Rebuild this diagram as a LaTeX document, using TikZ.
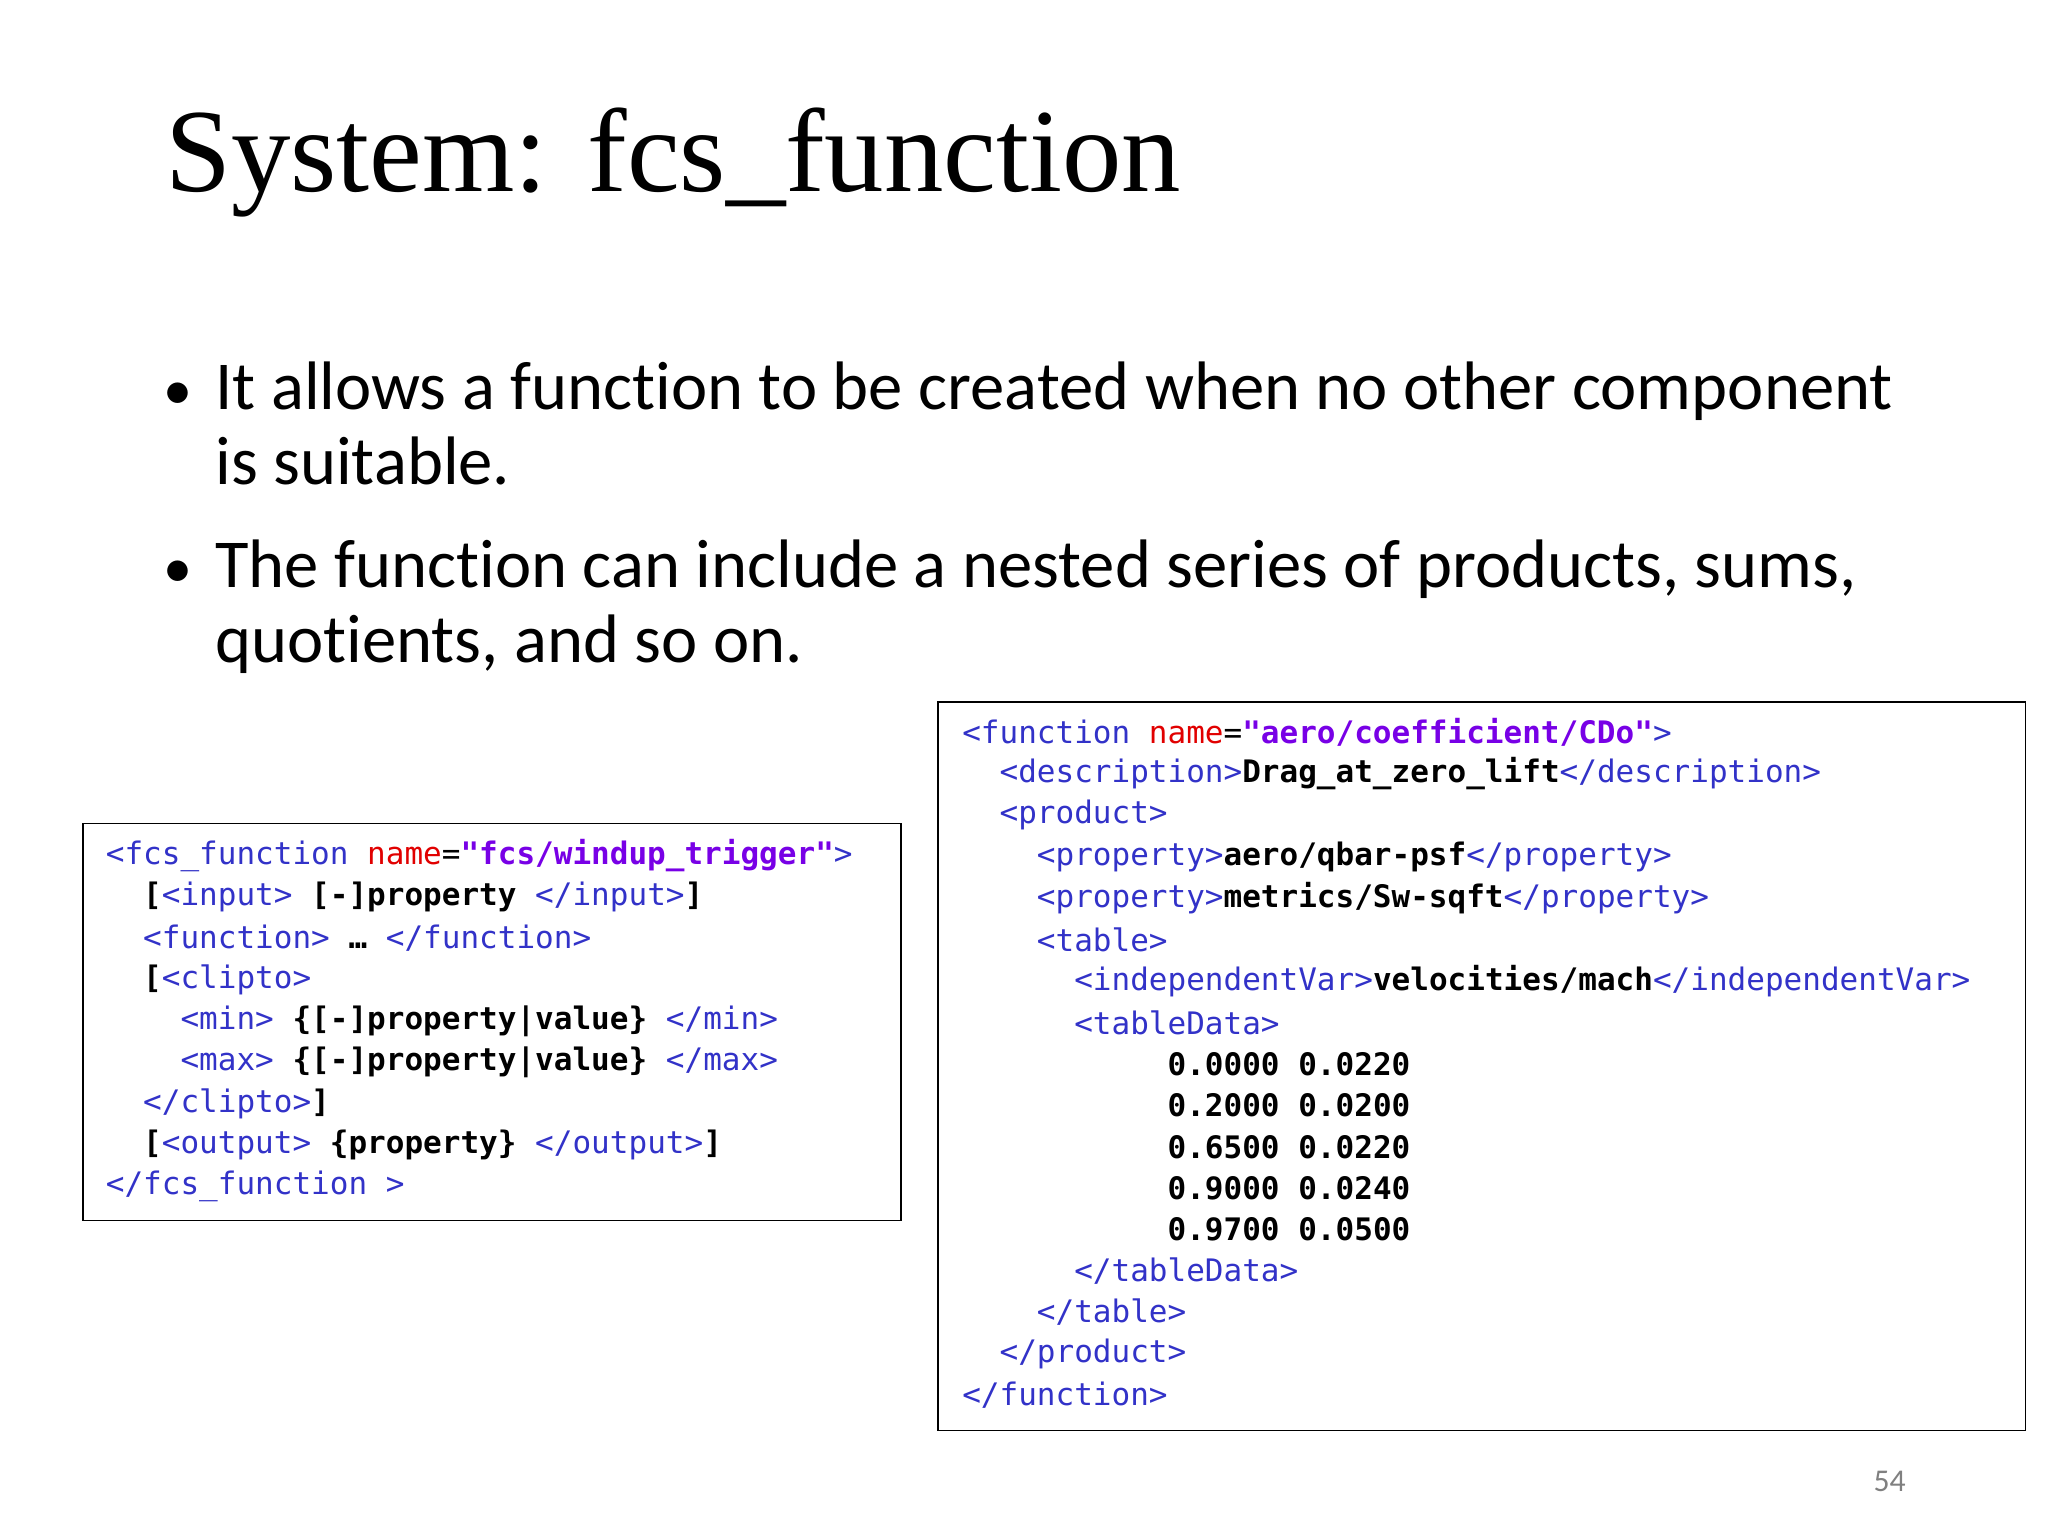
\documentclass[tikz,border=0pt]{standalone}
\usepackage{fontspec}
\setmainfont{Liberation Serif}
\newfontfamily\bodyf[Ligatures=NoCommon]{Carlito}
\newfontfamily\code{DejaVu Sans Mono}
\definecolor{tagc}{RGB}{50,50,200}
\definecolor{attc}{RGB}{225,0,0}
\definecolor{valc}{RGB}{120,0,230}
\newcommand\tg[1]{\textcolor{tagc}{#1}}
\newcommand\atn[1]{\textcolor{attc}{#1}}
\newcommand\vl[1]{\textcolor{valc}{\bfseries #1}}
\newcommand\bd[1]{{\bfseries #1}}
\begin{document}
\begin{tikzpicture}[x=1pt,y=-1pt,
  cl/.style={anchor=west,inner sep=0pt,font=\code\fontsize{23.5}{27}\selectfont},
  bul/.style={anchor=base west,inner sep=0pt,font=\bodyf\fontsize{52}{60}\selectfont},
  box/.style={draw,line width=1.3pt}]
\useasboundingbox[fill=white] (0,0) rectangle (1552,1164);
\node[anchor=base west,inner sep=0pt,font=\fontsize{90}{100}\selectfont] (title) at (125,145) {System: fcs\_function};
\node[bul,font=\bodyf\fontsize{44}{50}\selectfont] (d1) at (124,310) {•};
\node[bul] (b1) at (163,310) {It allows a function to be created when no other component};
\node[bul] (b1b) at (163,367) {is suitable.};
\node[bul,font=\bodyf\fontsize{44}{50}\selectfont] (d2) at (124,445) {•};
\node[bul] (b2) at (163,445) {The function can include a nested series of products, sums,};
\node[bul] (b2b) at (163,502) {quotients, and so on.};
\draw[box] (63,624) rectangle (683,925);
\def\lx{80}\def\cw{14.15}
\foreach \i/\ind/\t in {0/0/{\tg{<fcs\_function} \atn{name}=\vl{"fcs/windup\_trigger"}\tg{>}},
  1/2/{\bd{[}\tg{<input>} \bd{[-]property} \tg{</input>}\bd{]}},
  2/2/{\tg{<function>} \bd{…} \tg{</function>}},
  3/2/{\bd{[}\tg{<clipto>}},
  4/4/{\tg{<min>} \bd{\{[-]property|value\}} \tg{</min>}},
  5/4/{\tg{<max>} \bd{\{[-]property|value\}} \tg{</max>}},
  6/2/{\tg{</clipto>}\bd{]}},
  7/2/{\bd{[}\tg{<output>} \bd{\{property\}} \tg{</output>}\bd{]}},
  8/0/{\tg{</fcs\_function >}}}
  \node[cl] (l\i) at ({\lx+\cw*\ind},{648+31.4*\i}) {\t};
\draw[box] (711,532) rectangle (1535,1084);
\def\rx{729}
\foreach \i/\ind/\t in {0/0/{\tg{<function} \atn{name}=\vl{"aero/coefficient/CDo"}\tg{>}},
  1/2/{\tg{<description>}\bd{Drag\_at\_zero\_lift}\tg{</description>}},
  2/2/{\tg{<product>}},
  3/4/{\tg{<property>}\bd{aero/qbar-psf}\tg{</property>}},
  4/4/{\tg{<property>}\bd{metrics/Sw-sqft}\tg{</property>}},
  5/4/{\tg{<table>}},
  6/6/{\tg{<independentVar>}\bd{velocities/mach}\tg{</independentVar>}},
  7/6/{\tg{<tableData>}},
  8/11/{\bd{0.0000 0.0220}},
  9/11/{\bd{0.2000 0.0200}},
  10/11/{\bd{0.6500 0.0220}},
  11/11/{\bd{0.9000 0.0240}},
  12/11/{\bd{0.9700 0.0500}},
  13/6/{\tg{</tableData>}},
  14/4/{\tg{</table>}},
  15/2/{\tg{</product>}},
  16/0/{\tg{</function>}}}
  \node[cl] (r\i) at ({\rx+\cw*\ind},{555+31.4*\i}) {\t};
\node[anchor=base,inner sep=0pt,text=gray,font=\bodyf\fontsize{24}{28}\selectfont] (pg) at (1432,1130) {54};
\end{tikzpicture}
\end{document}
